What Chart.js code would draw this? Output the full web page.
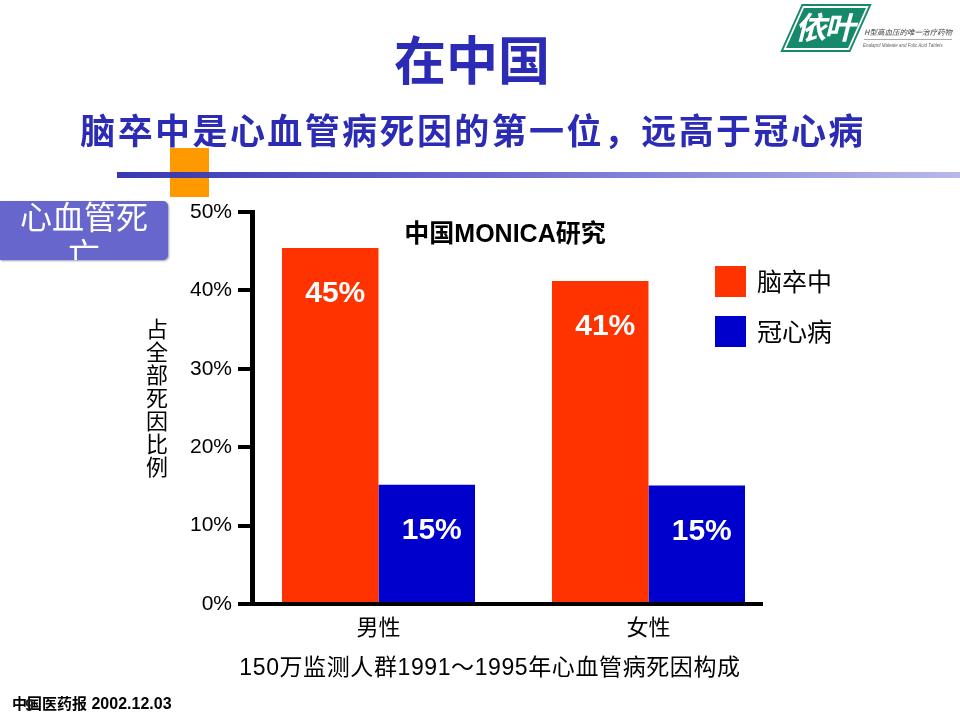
<!DOCTYPE html>
<html>
<head>
<meta charset="utf-8">
<script src="https://cdn.jsdelivr.net/npm/chart.js@4.4.1/dist/chart.umd.min.js"></script>
<style>
body { margin: 0; background: #fff; }
#slide { position: relative; width: 960px; height: 720px; overflow: hidden;
  font-family: "Liberation Sans", Arial, "Noto Sans CJK SC", sans-serif; color: #000; }
#slide canvas { position: absolute; left: 0; top: 0; }
.abs { position: absolute; white-space: nowrap; }
.center { transform: translateX(-50%); text-align: center; }
#title { left: 472px; top: 34px; font-size: 52px; line-height: 56px; font-weight: 700; color: #2b2bb6; }
#subtitle { left: 473px; top: 113px; font-size: 35px; line-height: 38px; font-weight: 700; color: #2b2bb6; letter-spacing: 2.4px; }
#orange { left: 170px; top: 148px; width: 39px; height: 49px; background: #ff9900; }
#rule { left: 117px; top: 172px; width: 843px; height: 6px;
  background: linear-gradient(to right, #2e2eb0, #6a6ad0 50%, #b4b4ea); opacity: 0.95; }
#tag { left: 0; top: 201px; width: 168px; height: 59px; background: #6666cc; overflow: hidden;
  border-radius: 0 5px 5px 0; box-shadow: 1px 1px 2px rgba(60,60,120,0.5); }
#tag div { position: relative; top: -4px; padding: 0 10px; color: #fff; font-size: 32px; line-height: 37px;
  text-align: center; white-space: normal; font-family: "Noto Sans CJK SC", sans-serif; }
#ytitle { left: 141px; top: 318px; font-size: 22px; letter-spacing: 1px; writing-mode: vertical-rl;
  font-family: "Noto Sans CJK SC", sans-serif; }
#ctitle { left: 505px; top: 218px; font-size: 25px; line-height: 30px; font-weight: 700; }
#caption { left: 490px; top: 652px; font-size: 23px; line-height: 30px; letter-spacing: 0.6px; }
.lg { position: absolute; left: 715px; height: 30px; }
.lg span.box { position: absolute; left: 0; top: 0; width: 31px; height: 31px; }
.lg span.txt { position: absolute; left: 42px; top: -3px; font-size: 25px; line-height: 34px; white-space: nowrap;
  font-family: "Noto Sans CJK SC", sans-serif; }
#footer { left: 12px; top: 692px; font-size: 16px; line-height: 22px; font-weight: 700; }
#footer .cn { font-size: 15px; font-family: "Noto Sans CJK SC", sans-serif; }
#pnum { left: 25px; top: 696px; font-size: 16px; line-height: 20px; color: #222; font-weight: 700; }
#logo { left: 783px; top: 5px; width: 175px; height: 60px; }
#logo .badge { position: absolute; left: 10px; top: 1px; width: 62px; height: 40px; background: #17896b;
  transform: skewX(-24deg); border: 2px solid #fff; outline: 2px solid #17896b; }
#logo .mark { position: absolute; left: 12px; top: 3px; font-size: 31px; line-height: 36px; color: #fff;
  font-weight: 700; font-style: italic; font-family: "Noto Sans CJK SC", sans-serif; letter-spacing: -2px; }
#logo .cn { position: absolute; left: 81px; top: 22px; font-size: 7.5px; line-height: 10px; color: #444; font-style: italic;
  font-family: "Noto Sans CJK SC", sans-serif; padding-bottom: 2px; border-bottom: 1px solid #aaa; }
#logo .en { position: absolute; left: 80px; top: 38px; font-size: 4.5px; color: #666; font-style: italic; }
</style>
</head>
<body>
<div id="slide">
  <canvas id="chartCanvas" width="960" height="720"></canvas>
  <div id="logo" class="abs">
    <div class="badge"></div>
    <div class="mark">依叶</div>
    <div class="cn">H型高血压的唯一治疗药物</div>
    <div class="en">Enalapril Maleate and Folic Acid Tablets</div>
  </div>
  <div id="title" class="abs center">在中国</div>
  <div id="subtitle" class="abs center">脑卒中是心血管病死因的第一位，远高于冠心病</div>
  <div id="orange" class="abs"></div>
  <div id="rule" class="abs"></div>
  <div id="tag" class="abs"><div>心血管死亡</div></div>
  <div id="ytitle" class="abs">占全部死因比例</div>
  <div id="ctitle" class="abs center">中国MONICA研究</div>
  <div id="legend"></div>
  <div id="caption" class="abs center">150万监测人群1991～1995年心血管病死因构成</div>
  <div id="footer" class="abs"><span class="cn">中国医药报</span> 2002.12.03</div>
  <div id="pnum" class="abs">9</div>
</div>
<script>
const categories = ['男性', '女性'];
const seriesNames = ['脑卒中', '冠心病'];
const strokeValues = [45.4, 41.2];
const chdValues = [15.2, 15.1];
const yTicks = [0, 10, 20, 30, 40, 50];

const seriesColors = ['#ff3300', '#0000cc'];

// legend built from the series names
const legendBox = document.getElementById('legend');
seriesNames.forEach((name, i) => {
    const item = document.createElement('div');
    item.className = 'lg';
    item.style.top = (266 + i * 50) + 'px';
    item.innerHTML = '<span class="box" style="background:' + seriesColors[i] + '"></span><span class="txt">' + name + '</span>';
    legendBox.appendChild(item);
});

const toPoints = values => values.map((v, i) => ({ x: i, y: v }));

const barLabels = {
    id: 'barLabels',
    afterDatasetsDraw(chart) {
        const ctx = chart.ctx;
        ctx.save();
        ctx.fillStyle = '#fff';
        ctx.font = 'bold 30px "Liberation Sans", Arial, sans-serif';
        ctx.textAlign = 'center';
        ctx.textBaseline = 'middle';
        chart.data.datasets.forEach((ds, di) => {
            chart.getDatasetMeta(di).data.forEach((bar, i) => {
                ctx.fillText(Math.round(ds.data[i].y) + '%', bar.x + 5, bar.y + 46);
            });
        });
        ctx.restore();
    }
};

const ctx = document.getElementById('chartCanvas').getContext('2d');
const chart = new Chart(ctx, {
    type: 'bar',
    data: {
        datasets: [{
            label: seriesNames[0],
            data: toPoints(strokeValues),
            backgroundColor: seriesColors[0]
        }, {
            label: seriesNames[1],
            data: toPoints(chdValues),
            backgroundColor: seriesColors[1]
        }]
    },
    options: {
        responsive: false,
        animation: false,
        categoryPercentage: 0.715,
        barPercentage: 1,
        layout: { padding: { left: 150, top: 212, right: 198, bottom: 76 } },
        scales: {
            x: {
                type: 'linear',
                offset: false,
                min: -0.4685,
                max: 1.4204,
                afterBuildTicks: scale => { scale.ticks = categories.map((c, i) => ({ value: i })); },
                afterFit: scale => { scale.height = 40; },
                grid: { display: false, drawTicks: false, offset: false },
                border: { display: true, color: '#000', width: 4 },
                ticks: {
                    padding: 9,
                    color: '#000',
                    font: { size: 22, family: '"Noto Sans CJK SC", sans-serif' },
                    callback: v => categories[v]
                }
            },
            y: {
                min: 0,
                max: 50,
                afterBuildTicks: scale => { scale.ticks = yTicks.map(v => ({ value: v })); },
                afterFit: scale => { scale.width = 102; },
                grid: { drawOnChartArea: false, drawTicks: true, tickLength: 14, color: '#000', lineWidth: 4 },
                border: { display: true, color: '#000', width: 5 },
                ticks: {
                    padding: 6,
                    color: '#000',
                    font: { size: 21, family: '"Liberation Sans", Arial, sans-serif' },
                    callback: v => v + '%'
                }
            }
        },
        plugins: {
            legend: { display: false },
            tooltip: { enabled: false }
        }
    },
    plugins: [barLabels]
});
</script>
</body>
</html>
